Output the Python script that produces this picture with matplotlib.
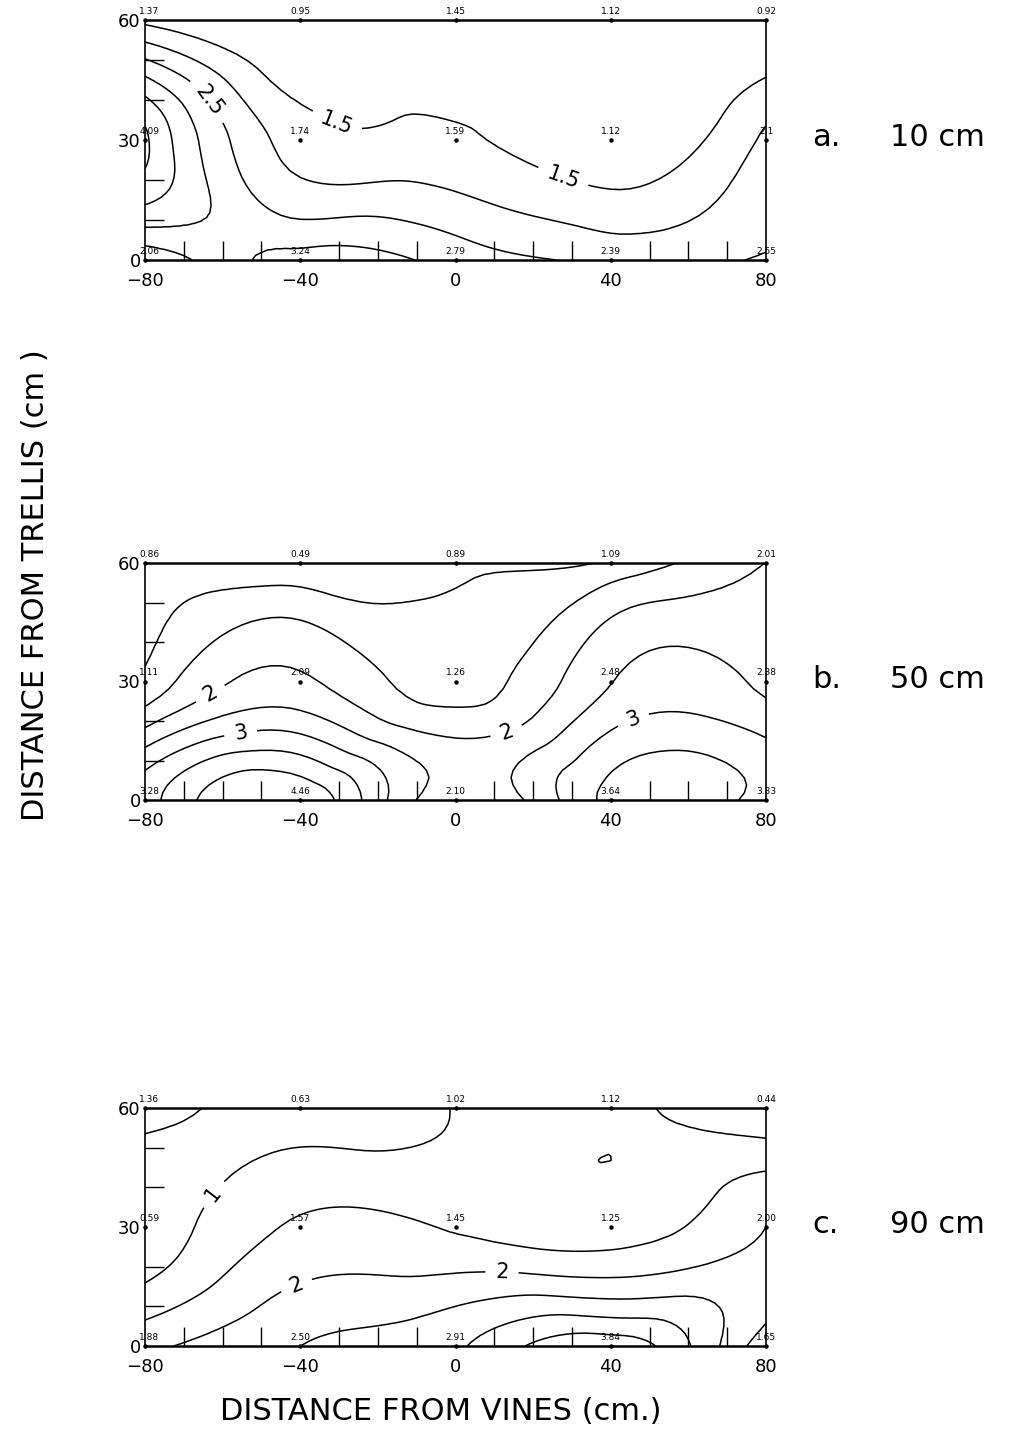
import matplotlib
matplotlib.use("Agg")

import matplotlib.pyplot as plt
import matplotlib.tri as mtri
import numpy as np

plt.rcParams["font.family"] = ["DejaVu Sans"]

# sampling positions
x_pos = [-80, -40, 0, 40, 80]
y_pos = [0, 30, 60]

# measured values, rows = y (0, 30, 60), cols = x
vals_10 = [
    [2.06, 3.24, 2.79, 2.39, 2.55],
    [4.09, 1.74, 1.59, 1.12, 2.11],
    [1.37, 0.95, 1.45, 1.12, 0.92],
]
vals_50 = [
    [3.28, 4.46, 2.10, 3.64, 3.33],
    [1.11, 2.09, 1.26, 2.48, 2.38],
    [0.86, 0.49, 0.89, 1.09, 2.01],
]
vals_90 = [
    [1.88, 2.50, 2.91, 3.84, 1.65],
    [0.59, 1.57, 1.45, 1.25, 2.00],
    [1.36, 0.63, 1.02, 1.12, 0.44],
]
labels_10 = [
    ["2.06", "3.24", "2.79", "2.39", "2.55"],
    ["4.09", "1.74", "1.59", "1.12", "2.1"],
    ["1.37", "0.95", "1.45", "1.12", "0.92"],
]
labels_50 = [
    ["3.28", "4.46", "2.10", "3.64", "3.33"],
    ["1.11", "2.09", "1.26", "2.48", "2.38"],
    ["0.86", "0.49", "0.89", "1.09", "2.01"],
]
labels_90 = [
    ["1.88", "2.50", "2.91", "3.84", "1.65"],
    ["0.59", "1.57", "1.45", "1.25", "2.00"],
    ["1.36", "0.63", "1.02", "1.12", "0.44"],
]

levels_10 = [1.5, 2.0, 2.5, 3.0, 3.5, 4.0]
levels_50 = [1.0, 1.5, 2.0, 2.5, 3.0, 3.5, 4.0]
levels_90 = [1.0, 1.5, 2.0, 2.5, 3.0, 3.5]

# where the contour labels sit (approximate, data coords)
label_spots_10 = [(-28, 40), (30, 27), (-62, 41)]
label_spots_50 = [(-62, 25), (-55, 15), (14, 15), (47, 17)]
label_spots_90 = [(-62, 38), (-40, 13), (12, 20)]

panels = [
    ("a.", "10 cm", vals_10, labels_10, levels_10, [1.5, 2.5], label_spots_10),
    ("b.", "50 cm", vals_50, labels_50, levels_50, [2.0, 3.0], label_spots_50),
    ("c.", "90 cm", vals_90, labels_90, levels_90, [1.0, 2.0], label_spots_90),
]

# axes boxes in pixels (top, bottom)
W, H = 1011, 1439
left_px, right_px = 145, 766
boxes = [(20, 260), (563, 800), (1108, 1346)]

fig = plt.figure(figsize=(W / 100, H / 100), dpi=100)

for (tag, depth, vals, labs, levels, lab_levels, spots), (top, bot) in zip(panels, boxes):
    ax = fig.add_axes([left_px / W, 1 - bot / H, (right_px - left_px) / W, (bot - top) / H])
    X, Y = np.meshgrid(x_pos, y_pos)
    Z = np.array(vals)
    tri = mtri.Triangulation(X.ravel(), Y.ravel())
    refiner = mtri.UniformTriRefiner(tri)
    interp = mtri.CubicTriInterpolator(tri, Z.ravel(), kind="min_E")
    tri_f, z_f = refiner.refine_field(Z.ravel(), triinterpolator=interp, subdiv=4)
    plain = [lv for lv in levels if lv not in lab_levels]
    ax.tricontour(tri_f, z_f, levels=plain, colors="black", linewidths=1.1)
    cs = ax.tricontour(tri_f, z_f, levels=lab_levels, colors="black", linewidths=1.1)
    ax.clabel(cs, inline=True, fontsize=15, fmt="%g", inline_spacing=10, manual=spots)

    for i, yv in enumerate(y_pos):
        for j, xv in enumerate(x_pos):
            ax.plot(xv, yv, marker="o", ms=2.2, color="black", clip_on=False)
            ax.annotate(labs[i][j], (xv, yv), xytext=(3 if j == 0 else 0, 3),
                        textcoords="offset points", ha="center", va="bottom",
                        fontsize=6.5, annotation_clip=False)

    ax.set_xlim(-80, 80)
    ax.set_ylim(0, 60)
    ax.set_xticks([-80, -40, 0, 40, 80])
    ax.set_xticklabels(["\u221280", "\u221240", "0", "40", "80"])
    ax.set_yticks([0, 30, 60])
    ax.set_xticks(np.arange(-70, 80, 10), minor=True)
    ax.set_yticks([10, 20, 40, 50], minor=True)
    ax.tick_params(which="major", direction="in", length=0, labelsize=13)
    ax.tick_params(axis="x", which="major", pad=9)
    ax.tick_params(axis="y", which="major", pad=3)
    ax.tick_params(which="minor", direction="in", length=14, width=1.0)
    for sp in ax.spines.values():
        sp.set_linewidth(1.2)
    ax.spines["top"].set_linewidth(1.8)
    ax.spines["bottom"].set_linewidth(1.8)

    yc = 1 - (top + (bot - top) * 0.49) / H
    fig.text(812 / W, yc, tag, fontsize=22, ha="left", va="center")
    fig.text(890 / W, yc, depth, fontsize=22, ha="left", va="center")

fig.text(36 / W, 1 - 585 / H, "DISTANCE FROM TRELLIS (cm )", rotation=90,
         fontsize=22, ha="center", va="center")
fig.text(441 / W, 1 - 1411 / H, "DISTANCE FROM VINES (cm.)", fontsize=22,
         ha="center", va="center")

fig.savefig("out.png", dpi=100)
